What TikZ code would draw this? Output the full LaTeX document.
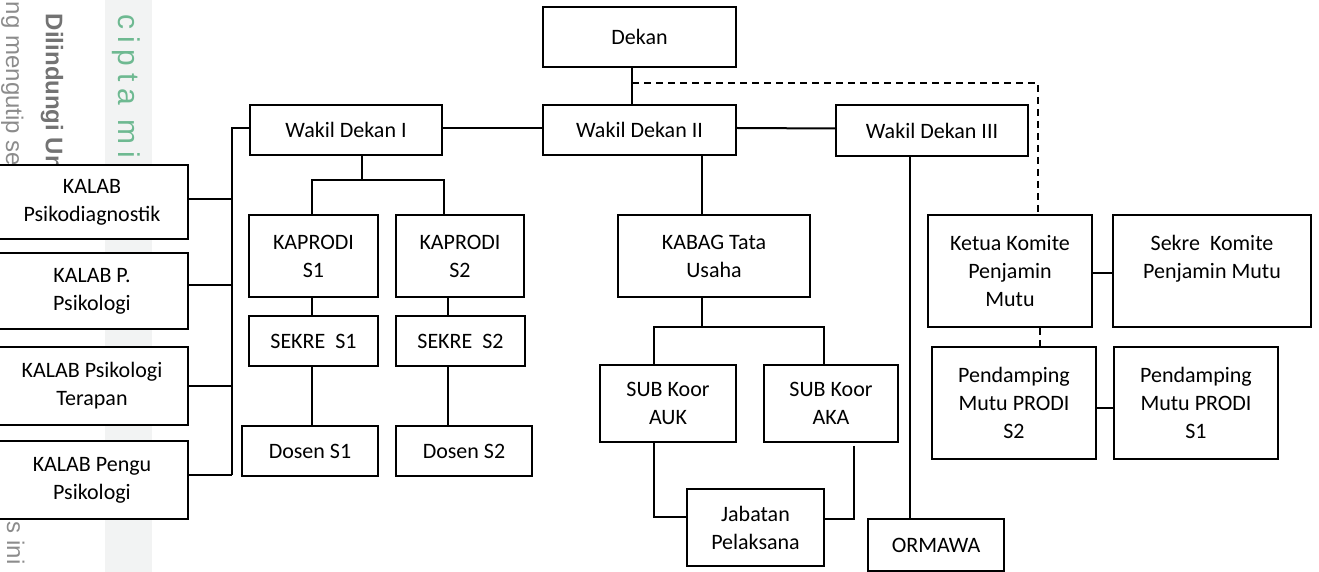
\documentclass[tikz,border=0pt]{standalone}
\usepackage{fontspec}
\setmainfont{Carlito}
\newfontfamily\wmfont{Liberation Sans}
\newfontfamily\wmspaced[LetterSpace=22]{Liberation Sans}
\definecolor{wmgreen}{RGB}{110,185,145}
\definecolor{wmband}{RGB}{242,243,243}
\begin{document}
\begin{tikzpicture}[x=0.5pt, y=-0.5pt, line width=1pt,
            box/.style={draw, fill=white, align=center, inner sep=0pt, font=\fontsize{11}{14}\selectfont},
            dashline/.style={dash pattern=on 3.5pt off 2.5pt},
            wmark/.style={rotate=-90, anchor=base west, inner sep=0pt}]
            \useasboundingbox (0,0) rectangle (1319,572) ;
            % watermark strip on the left
            \fill[wmband] (105,0) rectangle (152,572) ;
            \node[wmark, text=black!45, font=\wmfont\fontsize{12}{14}\selectfont] (wmA) at (6,1) {ng mengutip se} ;
            \node[wmark, text=black!55, font=\wmfont\bfseries\fontsize{12}{14}\selectfont] (wmB) at (46,13) {Dilindungi Un} ;
            \node[wmark, text=wmgreen, font=\wmspaced\fontsize{15}{17}\selectfont] (wmC) at (118,14) {cipta mi} ;
            \node[wmark, text=black!45, font=\wmfont\fontsize{12}{14}\selectfont] (wmD) at (7,521) {s ini} ;

            \node[box, minimum width=96.5pt, minimum height=30pt] (dekan) at (639.5,37) {Dekan} ;
            \node[box, minimum width=96pt, minimum height=25pt] (wd1) at (346,130) {Wakil Dekan I} ;
            \node[box, minimum width=96.5pt, minimum height=25pt] (wd2) at (639.5,130) {Wakil Dekan II} ;
            \node[box, minimum width=96pt, minimum height=25.5pt] (wd3) at (932,130.5) {Wakil Dekan III} ;

            \node[box, minimum width=96pt, minimum height=37pt] (kalab1) at (92,202) {KALAB\\Psikodiagnostik} ;
            \node[box, minimum width=96pt, minimum height=38pt] (kalab2) at (92,291) {KALAB P.\\Psikologi} ;
            \node[box, minimum width=96pt, minimum height=39pt] (kalab3) at (92,386) {KALAB Psikologi\\Terapan} ;
            \node[box, minimum width=96pt, minimum height=39pt] (kalab4) at (92,480) {KALAB Pengu\\Psikologi} ;

            \node[box, minimum width=64.5pt, minimum height=41pt] (kp1) at (313.5,256) {KAPRODI\\S1} ;
            \node[box, minimum width=64pt, minimum height=41pt] (kp2) at (460,256) {KAPRODI\\S2} ;
            \node[box, minimum width=64.5pt, minimum height=25pt] (sk1) at (313.5,341) {SEKRE~~S1} ;
            \node[box, minimum width=64.5pt, minimum height=25pt] (sk2) at (460.5,341) {SEKRE~~S2} ;
            \node[box, minimum width=68pt, minimum height=25pt] (ds1) at (310,451) {Dosen S1} ;
            \node[box, minimum width=68pt, minimum height=25pt] (ds2) at (464,451) {Dosen S2} ;

            \node[box, minimum width=96pt, minimum height=41pt] (kabag) at (714,256) {KABAG Tata\\Usaha} ;
            \node[box, minimum width=68pt, minimum height=38.5pt] (auk) at (668,403.5) {SUB Koor\\AUK} ;
            \node[box, minimum width=67pt, minimum height=38.5pt] (aka) at (831,403.5) {SUB Koor\\AKA} ;
            \node[box, minimum width=68.5pt, minimum height=38.5pt] (jab) at (755.5,527.5) {Jabatan\\Pelaksana} ;
            \node[box, minimum width=68pt, minimum height=26pt] (ormawa) at (936,545) {ORMAWA} ;

            \node[box, minimum width=82pt, minimum height=56pt] (ketua) at (1010,271) {Ketua Komite\\Penjamin\\Mutu} ;
            \node[box, minimum width=99pt, minimum height=56pt] (sekre) at (1212,271) {Sekre~~Komite\\Penjamin Mutu\\~} ;
            \node[box, minimum width=82pt, minimum height=56pt] (pd2) at (1014,403) {Pendamping\\Mutu PRODI\\S2} ;
            \node[box, minimum width=82pt, minimum height=56pt] (pd1) at (1196,403) {Pendamping\\Mutu PRODI\\S1} ;

            \coordinate (dk) at (632,83) ;
            \coordinate (qa) at (1038,83) ;
            \coordinate (busT) at (232,128) ;
            \coordinate (busB) at (232,475) ;
            \coordinate (bA) at (362,180) ;
            \coordinate (bL) at (312,180) ;
            \coordinate (bR) at (444,180) ;
            \coordinate (cS) at (448,180) ;
            \coordinate (tu) at (702,327) ;
            \coordinate (tL) at (654,327) ;
            \coordinate (tR) at (824,327) ;
            \coordinate (jA) at (654,517) ;
            \coordinate (jT) at (854,446) ;
            \coordinate (jB) at (854,519) ;
            \coordinate (om) at (910,519) ;
            \coordinate (kq) at (1040,347) ;

            \draw (dk |- dekan.south) -- (dk |- wd2.north) ;
            \draw[dashline] (dk) -- (qa) -- (qa |- ketua.north) ;
            \draw ([yshift=1pt]wd1.east) -- ([yshift=1pt]wd2.west) ;
            \draw ([yshift=1pt]wd2.east) -- ([yshift=1pt]wd3.west) ;

            \draw (wd1.west |- busT) -- (busT) -- (busB) ;
            \foreach \k/\s in {kalab1/1.5, kalab2/3, kalab3/0, kalab4/2.5}
                \draw ([yshift=\s pt]\k.east) -- ([yshift=\s pt]\k.east -| busT) ;

            \draw (bA |- wd1.south) -- (bA) ;
            \draw (bL |- kp1.north) -- (bL) -- (bR) -- (bR |- kp2.north) ;
            \draw (bL |- kp1.south) -- (bL |- sk1.north) ;
            \draw (bL |- sk1.south) -- (bL |- ds1.north) ;
            \draw (cS |- kp2.south) -- (cS |- sk2.north) ;
            \draw (cS |- sk2.south) -- (cS |- ds2.north) ;

            \draw (tu |- wd2.south) -- (tu |- kabag.north) ;
            \draw (tu |- kabag.south) -- (tu) ;
            \draw (tL |- auk.north) -- (tL) -- (tR) -- (tR |- aka.north) ;
            \draw (tL |- auk.south) -- (jA) -- (jA -| jab.west) ;
            \draw (jT) -- (jB) -- (jB -| jab.east) ;
            \draw (om |- wd3.south) -- (om |- ormawa.north) ;

            \draw ([yshift=-1pt]ketua.east) -- ([yshift=-1pt]sekre.west) ;
            \draw[dashline] (kq |- ketua.south) -- (kq |- pd2.north) ;
            \draw ([yshift=-2.5pt]pd2.east) -- ([yshift=-2.5pt]pd1.west) ;
        \end{tikzpicture}
\end{document}
